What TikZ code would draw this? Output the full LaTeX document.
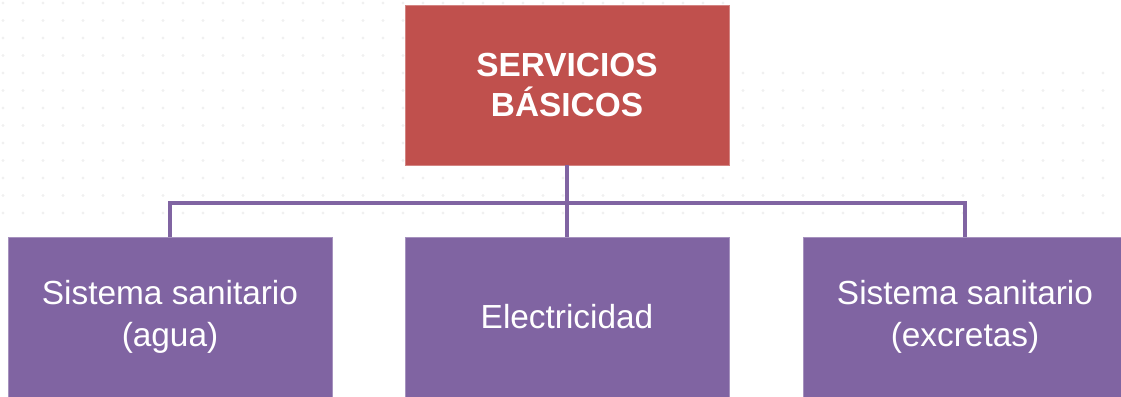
\documentclass[tikz,border=0pt]{standalone}
\usepackage{fontspec}
\setmainfont{Liberation Sans}

\definecolor{boxred}{HTML}{C0504D}
\definecolor{boxpurple}{HTML}{8064A2}

\begin{document}
\begin{tikzpicture}[
    x=0.02cm, y=-0.02cm,
    topbox/.style={rectangle,fill=boxred,draw=boxred!70!white,text=white,
      minimum width=6.48cm,minimum height=3.2cm,align=center,
      font=\fontsize{19}{23}\selectfont\bfseries},
    subbox/.style={rectangle,fill=boxpurple,draw=boxpurple!70!white,text=white,
      minimum width=6.48cm,minimum height=3.2cm,align=center,
      font=\fontsize{19}{24}\selectfont},
    link/.style={draw=boxpurple,line width=2.2pt}
    ]

    \useasboundingbox (0,0) rectangle (1121,396);

    % faint dotted background
    \foreach \x in {3,23,...,1121}
      \foreach \y in {3,20.5,...,230}
        {\ifdim\x pt>740pt \ifdim\y pt<60pt \else
            \fill[black!6] (\x,\y) circle (1.6);
          \fi
         \else
            \fill[black!6] (\x,\y) circle (1.6);
         \fi}

    \node (top) [topbox] at (567,85) {SERVICIOS\\BÁSICOS};

    \node (agua) [subbox] at (170,317) {Sistema sanitario\\(agua)};
    \node (luz) [subbox] at (567,317) {Electricidad};
    \node (excretas) [subbox] at (965,317) {Sistema sanitario\\(excretas)};

    \coordinate (bus) at (567,203);

    \draw[link] (top.south) -- (bus);
    \draw[link] (agua.north) |- (bus) -| (excretas.north);
    \draw[link] (bus) -- (luz.north);

  \end{tikzpicture}
\end{document}
